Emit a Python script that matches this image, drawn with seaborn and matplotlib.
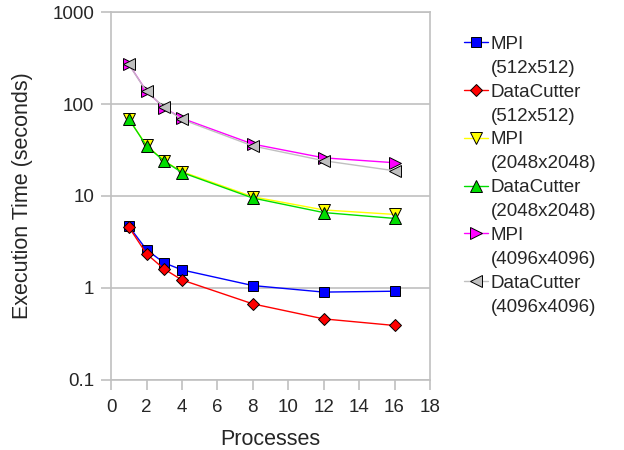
import matplotlib
matplotlib.use("Agg")
import matplotlib.pyplot as plt
from matplotlib.lines import Line2D
import pandas as pd
import seaborn as sns

processes = [1, 2, 3, 4, 8, 12, 16]
mpi_512 = [4.7, 2.6, 1.87, 1.57, 1.06, 0.9, 0.92]
dc_512 = [4.6, 2.35, 1.6, 1.22, 0.67, 0.46, 0.39]
mpi_2048 = [68.7, 35.5, 24.0, 18.4, 9.8, 7.05, 6.3]
dc_2048 = [69.0, 35.0, 24.0, 18.0, 9.5, 6.6, 5.7]
mpi_4096 = [272, 138, 91, 70, 36.7, 26, 23]
dc_4096 = [270, 137, 92, 68, 35, 24.2, 18.8]

names = ["MPI", "DataCutter", "MPI", "DataCutter", "MPI", "DataCutter"]
sizes_lbl = ["(512x512)", "(512x512)", "(2048x2048)", "(2048x2048)",
             "(4096x4096)", "(4096x4096)"]
series = [mpi_512, dc_512, mpi_2048, dc_2048, mpi_4096, dc_4096]
colors = ["#0000ff", "#ff0000", "#ffff00", "#00dd00", "#ff00ff", "#c0c0c0"]
markers = ["s", "D", "v", "^", ">", "<"]
msizes = [7, 6, 8, 8, 8, 8]

sns.set_style("white")
plt.rcParams['font.family'] = ['Liberation Sans', 'DejaVu Sans']

fig = plt.figure(figsize=(6.24, 4.5), dpi=100)
ax = fig.add_axes([0.178, 0.156, 0.511, 0.817])

for n, sl, vals, c, m, s in zip(names, sizes_lbl, series, colors, markers, msizes):
    df = pd.DataFrame({"Processes": processes, "Time": vals})
    sns.lineplot(x="Processes", y="Time", data=df, ax=ax, color=c, marker=m,
                 markersize=s, markeredgecolor="black", markeredgewidth=0.7,
                 linewidth=1, label=n + " " + sl)

ax.set_yscale("log")
ax.set_ylim(0.1, 1000)
ax.set_xlim(0, 18)
ax.set_xticks(range(0, 19, 2))
ax.set_yticks([0.1, 1, 10, 100, 1000])
ax.set_yticklabels(["0.1", "1", "10", "100", "1000"])
ax.minorticks_off()
ax.yaxis.grid(True, color="#c0c0c0", linewidth=1.2)
ax.set_axisbelow(True)
for sp in ax.spines.values():
    sp.set_color("#c0c0c0")
    sp.set_linewidth(1.2)
ax.tick_params(axis="both", labelsize=13.5, length=7, width=1.2, color="#c0c0c0",
               direction="out", pad=5)
ax.tick_params(axis="y", left=True)
ax.tick_params(axis="x", bottom=True, pad=7)
ax.set_xlabel("Processes", fontsize=15.5, labelpad=9)
ax.set_ylabel("Execution Time (seconds)", fontsize=15.5, labelpad=14)

# legend: handle on the first line, size on a second row with no handle
handles, _ = ax.get_legend_handles_labels()
ax.legend_.remove()
leg_h, leg_l = [], []
for h, n, sl in zip(handles, names, sizes_lbl):
    leg_h += [h, Line2D([], [], linestyle="none")]
    leg_l += [n, sl]
fig.legend(leg_h, leg_l, loc="upper left", bbox_to_anchor=(0.732, 0.937),
           frameon=False, fontsize=13.5, handlelength=1.25, handletextpad=0.15,
           labelspacing=0.36, borderaxespad=0)

fig.savefig("out.png", dpi=100)
